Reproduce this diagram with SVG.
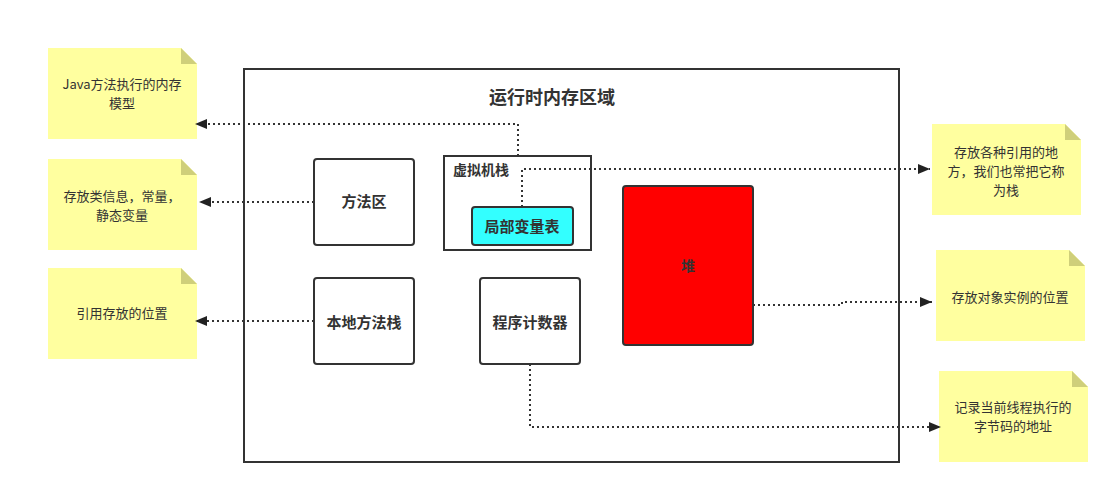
<svg xmlns="http://www.w3.org/2000/svg" width="1120" height="494" viewBox="0 0 1120 494">
<defs>
<style>
.note{fill:#FFFF9F;}
.fold{fill:#CFCF7A;}
.nt{font-family:"Noto Sans CJK SC","Liberation Sans",sans-serif;font-size:13px;fill:#333;text-anchor:middle;}
.bx{fill:#fff;stroke:#333;stroke-width:2;}
.bl{font-family:"Noto Sans CJK SC","Liberation Sans",sans-serif;font-size:15px;font-weight:bold;fill:#333;text-anchor:middle;}
.conn{fill:none;stroke:#333;stroke-width:2;stroke-dasharray:2 3;}
</style>
<marker id="arr" viewBox="0 0 12 10" refX="12" refY="5" markerWidth="12" markerHeight="10" markerUnits="userSpaceOnUse" orient="auto">
<path d="M0,0 L12,5 L0,10 Z" fill="#222"/>
</marker>
</defs>
<rect width="1120" height="494" fill="#fff"/>

<g id="outer">
<rect x="244" y="69" width="655" height="393" fill="#fff" stroke="#333" stroke-width="2"/>
<text x="552" y="104" class="bl" style="font-size:18px">运行时内存区域</text>
</g>

<g id="note-java">
<path class="note" d="M48,48 H181 L197,64 V139 H48 Z"/>
<path class="fold" d="M181,48 L197,64 H181 Z"/>
<text class="nt" x="122" y="89">Java方法执行的内存</text>
<text class="nt" x="122" y="108">模型</text>
</g>
<g id="note-method">
<path class="note" d="M48,159 H181 L197,175 V250 H48 Z"/>
<path class="fold" d="M181,159 L197,175 H181 Z"/>
<text class="nt" x="122" y="201">存放类信息，常量，</text>
<text class="nt" x="122" y="220">静态变量</text>
</g>
<g id="note-native">
<path class="note" d="M48,268 H181 L197,284 V359 H48 Z"/>
<path class="fold" d="M181,268 L197,284 H181 Z"/>
<text class="nt" x="122" y="318">引用存放的位置</text>
</g>

<g id="note-stack">
<path class="note" d="M932,124 H1065 L1081,140 V215 H932 Z"/>
<path class="fold" d="M1065,124 L1081,140 H1065 Z"/>
<text class="nt" x="1006" y="157">存放各种引用的地</text>
<text class="nt" x="1006" y="176">方，我们也常把它称</text>
<text class="nt" x="1006" y="195">为栈</text>
</g>
<g id="note-heap">
<path class="note" d="M936,250 H1069 L1085,266 V341 H936 Z"/>
<path class="fold" d="M1069,250 L1085,266 H1069 Z"/>
<text class="nt" x="1010" y="302">存放对象实例的位置</text>
</g>
<g id="note-pc">
<path class="note" d="M939,371 H1072 L1088,387 V462 H939 Z"/>
<path class="fold" d="M1072,371 L1088,387 H1072 Z"/>
<text class="nt" x="1013" y="412">记录当前线程执行的</text>
<text class="nt" x="1013" y="431">字节码的地址</text>
</g>

<g id="method-area">
<rect class="bx" x="314" y="159" width="100" height="86" rx="3"/>
<text class="bl" x="364" y="207">方法区</text>
</g>
<g id="native-stack">
<rect class="bx" x="314" y="278" width="100" height="86" rx="3"/>
<text class="bl" x="364" y="328">本地方法栈</text>
</g>
<g id="vm-stack">
<rect class="bx" x="444" y="156" width="147" height="94"/>
<text class="bl" x="453" y="175" style="font-size:14px;text-anchor:start">虚拟机栈</text>
</g>
<g id="local-vars">
<rect x="472" y="207" width="101" height="38" rx="3" fill="#33FFFF" stroke="#333" stroke-width="2"/>
<text class="bl" x="522" y="232">局部变量表</text>
</g>
<g id="pc">
<rect class="bx" x="480" y="278" width="100" height="86" rx="3"/>
<text class="bl" x="530" y="328">程序计数器</text>
</g>
<g id="heap">
<rect x="623" y="186" width="130" height="159" rx="3" fill="#FF0000" stroke="#333" stroke-width="2"/>
<text class="bl" x="688" y="271" style="font-size:14px">堆</text>
</g>

<g id="connectors">
<path class="conn" d="M518,156 V124 H195" marker-end="url(#arr)"/>
<path class="conn" d="M314,202 H199" marker-end="url(#arr)"/>
<path class="conn" d="M314,321 H195" marker-end="url(#arr)"/>
<path class="conn" d="M522,207 V169 H930" marker-end="url(#arr)"/>
<path class="conn" d="M753,305 H842 V302 H932" marker-end="url(#arr)"/>
<path class="conn" d="M530,364 V427 H941" marker-end="url(#arr)"/>
</g>
</svg>
